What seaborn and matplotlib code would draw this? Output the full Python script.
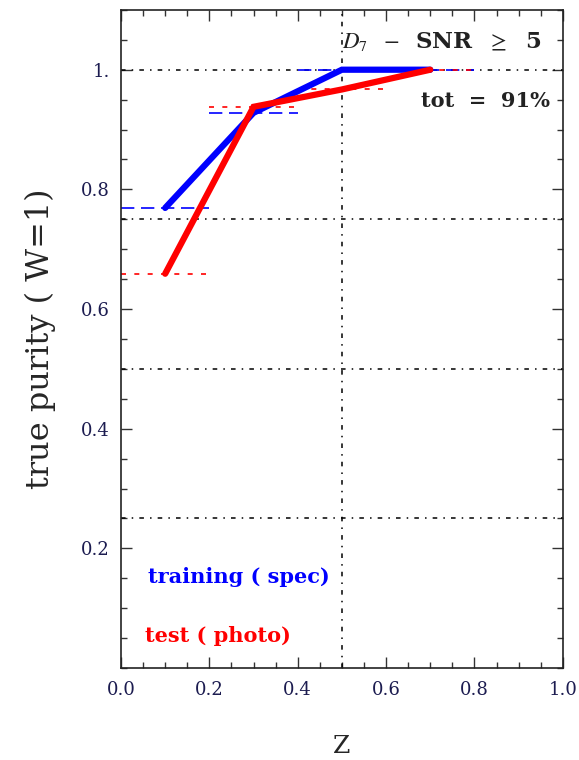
import numpy as np
import pandas as pd
import matplotlib
matplotlib.use("Agg")
import matplotlib.pyplot as plt
import seaborn as sns

# data
z_train = [0.1, 0.3, 0.5, 0.7]
p_train = [0.769, 0.928, 1.0, 1.0]
z_test = [0.1, 0.3, 0.5, 0.7]
p_test = [0.659, 0.938, 0.967, 1.0]
bin_half = 0.1
grid_y = [0.25, 0.5, 0.75, 1.0]
grid_x = [0.5]
yticks = [0.2, 0.4, 0.6, 0.8, 1.0]
ytick_labels = ["0.2", "0.4", "0.6", "0.8", "1."]
xticks = [0.0, 0.2, 0.4, 0.6, 0.8, 1.0]
xtick_labels = ["0.0", "0.2", "0.4", "0.6", "0.8", "1.0"]

sns.set_style("ticks")
plt.rcParams['font.family'] = ['Liberation Serif', 'DejaVu Serif']
plt.rcParams['mathtext.fontset'] = 'stix'

fig = plt.figure(figsize=(5.79, 7.60), dpi=100)
ax = fig.add_axes([0.209, 0.121, 0.763, 0.866])

tick_color = '#1c1c50'
blue = '#0000ff'
red = '#ff0000'

# grid lines
for gy in grid_y:
    ax.axhline(gy, color='black', lw=1.1, dashes=(3, 4, 1, 4), zorder=1)
for gx in grid_x:
    ax.axvline(gx, color='black', lw=1.1, dashes=(3, 4, 1, 4), zorder=1)

# bin segments
ax.hlines(p_train, np.array(z_train) - bin_half, np.array(z_train) + bin_half,
          colors=blue, lw=1.2, linestyles=(0, (8, 4)), zorder=2)
ax.hlines(p_test, np.array(z_test) - bin_half, np.array(z_test) + bin_half,
          colors=red, lw=1.2, linestyles=(0, (3, 5)), zorder=2)

df_train = pd.DataFrame({"z": z_train, "p": p_train})
df_test = pd.DataFrame({"z": z_test, "p": p_test})
sns.lineplot(data=df_train, x="z", y="p", ax=ax, color=blue, lw=4.5, zorder=3,
             sort=False, solid_joinstyle='miter')
sns.lineplot(data=df_test, x="z", y="p", ax=ax, color=red, lw=4.5, zorder=4,
             sort=False, solid_joinstyle='miter')

ax.set_xlim(0, 1)
ax.set_ylim(0, 1.1)
ax.set_xticks(xticks)
ax.set_xticklabels(xtick_labels, family='DejaVu Serif')
ax.set_yticks(yticks)
ax.set_yticklabels(ytick_labels, family='DejaVu Serif')
ax.set_xticks(np.arange(0, 1.0001, 0.05), minor=True)
ax.set_yticks(np.arange(0, 1.1001, 0.05), minor=True)
ax.tick_params(which='both', direction='in', top=True, right=True,
               labelcolor=tick_color, labelsize=13, color='#333333')
ax.tick_params(axis='x', which='major', pad=9)
ax.tick_params(axis='y', which='major', pad=8)
ax.tick_params(which='major', length=8, width=1)
ax.tick_params(which='minor', length=4, width=1)
for s in ax.spines.values():
    s.set_linewidth(1.2)
    s.set_color('#222222')

ax.set_xlabel("Z", fontsize=18, labelpad=26, family='DejaVu Serif')
ax.set_ylabel("true purity ( W=1)", fontsize=23, labelpad=18, family='DejaVu Serif')

ax.text(0.726, 0.952, r"$D_7$  $-$  SNR  $\geq$  5", transform=ax.transAxes,
        fontsize=16.5, fontweight='bold', ha='center', va='center', color='#222222',
        family='DejaVu Serif')
ax.text(0.97, 0.862, "tot  =  91%", transform=ax.transAxes,
        fontsize=15, fontweight='bold', ha='right', va='center', color='#222222',
        family='DejaVu Serif')
ax.text(0.06, 0.138, "training ( spec)", transform=ax.transAxes,
        fontsize=15, fontweight='bold', ha='left', va='center', color=blue,
        family='DejaVu Serif')
ax.text(0.055, 0.048, "test ( photo)", transform=ax.transAxes,
        fontsize=15, fontweight='bold', ha='left', va='center', color=red,
        family='DejaVu Serif')

if ax.get_legend() is not None:
    ax.get_legend().remove()

fig.savefig("out.png", dpi=100)
